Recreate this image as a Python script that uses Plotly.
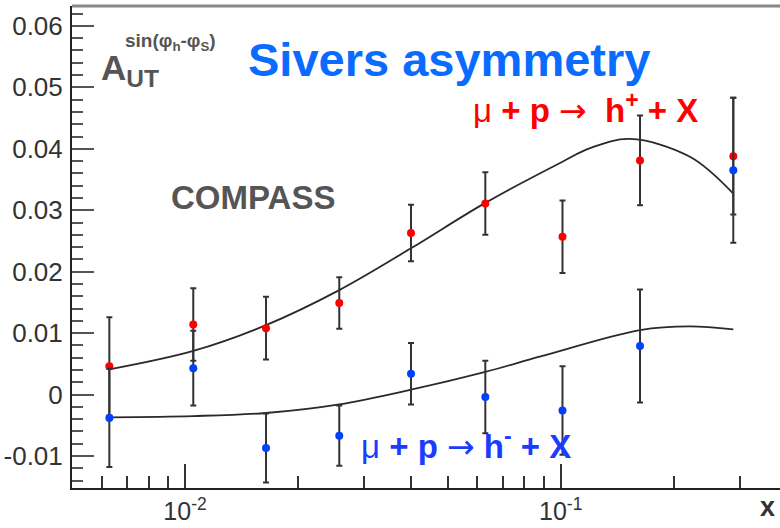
import numpy as np
import plotly.graph_objects as go

# Bin centres in Bjorken x (shared by both hadron charges)
x_bins = [0.00629, 0.01052, 0.01643, 0.02574, 0.03995, 0.0630, 0.1011, 0.1626, 0.2880]

# Sivers asymmetry for positive hadrons
h_plus = [0.0046, 0.0114, 0.0108, 0.0149, 0.0263, 0.0311, 0.0257, 0.0381, 0.0388]
h_plus_err = [0.0080, 0.0059, 0.0051, 0.0042, 0.0046, 0.0051, 0.0059, 0.0073, 0.0095]

# Sivers asymmetry for negative hadrons
h_minus = [-0.0038, 0.0043, -0.0087, -0.0067, 0.0034, -0.0004, -0.0026, 0.0079, 0.0365]
h_minus_err = [0.0080, 0.0061, 0.0056, 0.0049, 0.0050, 0.0059, 0.0072, 0.0092, 0.0118]

# Model curves
fit_plus_x = [0.00629, 0.01052, 0.01643, 0.02574, 0.03995, 0.0630, 0.1011, 0.1197, 0.1529, 0.2208, 0.2880]
fit_plus_y = [0.0041, 0.0071, 0.0113, 0.0170, 0.0238, 0.0312, 0.0379, 0.0401, 0.0416, 0.0387, 0.0327]
fit_minus_x = [0.00629, 0.01052, 0.01643, 0.02574, 0.03995, 0.0630, 0.0884, 0.1626, 0.2208, 0.2880]
fit_minus_y = [-0.0037, -0.0035, -0.0030, -0.0016, 0.0008, 0.0037, 0.0062, 0.0105, 0.0111, 0.0106]

# Axis ticks
y_tickvals = [-0.01, 0, 0.01, 0.02, 0.03, 0.04, 0.05, 0.06]
y_ticktext = ["-0.01", "0", "0.01", "0.02", "0.03", "0.04", "0.05", "0.06"]
x_tickvals = [0.01, 0.1]
x_ticktext = ["10<sup>-2</sup>", "10<sup>-1</sup>"]
x_minor = [0.006, 0.007, 0.008, 0.009, 0.02, 0.03, 0.04, 0.05, 0.06, 0.07, 0.08, 0.09, 0.2, 0.3]
y_minor = list(np.round(np.arange(-0.014, 0.0621, 0.002), 4))

W, H = 780, 528
ML, MR, MT, MB = 72, 0, 6, 40
PW, PH = W - ML - MR, H - MT - MB


def fx(px):
    return (px - ML) / PW


def fy(py):
    return (H - MB - py) / PH


FONT = "Liberation Sans, Arial, Helvetica, sans-serif"
ARROW = "<span style='font-family:DejaVu Sans'>→</span>"
RED = "#ff0000"
BLUE_PT = "#0040ff"
BLUE_TXT = "#1a3cff"
CURVE = "#2a2a2a"
BAR = "#333333"

fig = go.Figure()

fig.add_trace(go.Scatter(x=fit_plus_x, y=fit_plus_y, mode="lines",
                         line=dict(color=CURVE, width=1.8, shape="spline", smoothing=1.0),
                         hoverinfo="skip"))
fig.add_trace(go.Scatter(x=fit_minus_x, y=fit_minus_y, mode="lines",
                         line=dict(color=CURVE, width=1.8, shape="spline", smoothing=1.0),
                         hoverinfo="skip"))

fig.add_trace(go.Scatter(x=x_bins, y=h_plus, mode="markers",
                         marker=dict(color=RED, size=8),
                         error_y=dict(type="data", array=h_plus_err, color=BAR,
                                      thickness=2, width=3)))
fig.add_trace(go.Scatter(x=x_bins, y=h_minus, mode="markers",
                         marker=dict(color=BLUE_PT, size=8),
                         error_y=dict(type="data", array=h_minus_err, color=BAR,
                                      thickness=2, width=3)))

ann = []
ann.append(dict(text="<b>Sivers asymmetry</b>", x=fx(449), y=fy(59),
                font=dict(size=47, color="#0a6cff", family=FONT)))
ann.append(dict(text="<b>COMPASS</b>", x=fx(253), y=fy(197),
                font=dict(size=33, color="#555555", family=FONT)))
ann.append(dict(text="μ <b>+ p</b> " + ARROW + "  <b>h<sup>+</sup> + X</b>", x=fx(585), y=fy(108),
                font=dict(size=33, color=RED, family=FONT)))
ann.append(dict(text="μ <b>+ p</b> " + ARROW + " <b>h<sup>-</sup> + X</b>", x=fx(466), y=fy(444),
                font=dict(size=33, color=BLUE_TXT, family=FONT)))
ann.append(dict(text="<b>A<sub>UT</sub></b>", x=fx(99), y=fy(70), xanchor="left",
                font=dict(size=35, color="#555555", family=FONT)))
ann.append(dict(text="<b>sin(φ<sub>h</sub>-φ<sub>S</sub>)</b>", x=fx(123), y=fy(42), xanchor="left",
                font=dict(size=19, color="#555555", family=FONT)))
ann.append(dict(text="<b>x</b>", x=fx(767), y=fy(507),
                font=dict(size=27, color="#333333", family=FONT)))
for a in ann:
    a.update(xref="paper", yref="paper", showarrow=False)
    a.setdefault("xanchor", "center")
    a.setdefault("yanchor", "middle")

# top frame edge
shapes = [dict(type="line", xref="paper", yref="paper", x0=0, x1=1, y0=1, y1=1,
               line=dict(color="#888888", width=3))]

fig.update_layout(
    width=W, height=H,
    margin=dict(l=ML, r=MR, t=MT, b=MB, pad=0),
    paper_bgcolor="white", plot_bgcolor="white",
    showlegend=False,
    annotations=ann,
    shapes=shapes,
    font=dict(family=FONT, color="#333333"),
    xaxis=dict(
        type="log",
        range=[np.log10(0.005003), -0.4163],
        tickmode="array", tickvals=x_tickvals, ticktext=x_ticktext,
        ticks="inside", ticklen=24, tickwidth=2, tickcolor="#333333",
        tickfont=dict(size=25, color="#333333", family=FONT),
        minor=dict(tickvals=x_minor, ticks="inside", ticklen=12, tickwidth=2,
                   tickcolor="#333333", showgrid=False),
        showline=True, linecolor="#222222", linewidth=2, mirror=False,
        showgrid=False, zeroline=False,
    ),
    yaxis=dict(
        range=[-0.01521, 0.06324],
        tickmode="array", tickvals=y_tickvals, ticktext=y_ticktext,
        ticks="inside", ticklen=22, tickwidth=2, tickcolor="#555555",
        tickfont=dict(size=26, color="#333333", family=FONT),
        ticklabelstandoff=2,
        minor=dict(tickvals=y_minor, ticks="inside", ticklen=11, tickwidth=2,
                   tickcolor="#555555", showgrid=False),
        showline=True, linecolor="#222222", linewidth=2, mirror=False,
        showgrid=False, zeroline=False,
    ),
)

fig.write_html("out.html")
